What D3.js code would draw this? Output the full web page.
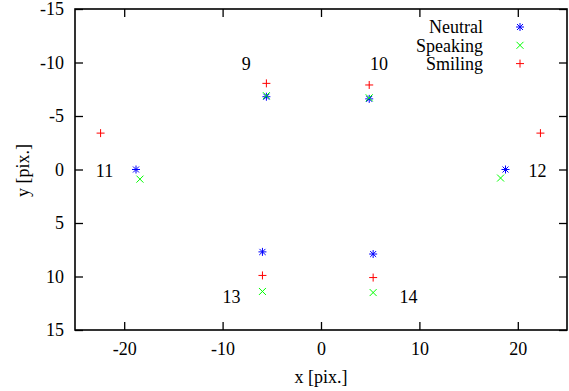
<!DOCTYPE html>
<html>
<head>
<meta charset="utf-8">
<script src="https://cdn.jsdelivr.net/npm/d3@7"></script>
<style>
  body { margin: 0; background: #fff; }
  svg { display: block; }
</style>
</head>
<body>
<svg id="chart" width="569" height="391"></svg>
<script>
// landmark ids and their label positions (data units)
const landmarkIds = ["9", "10", "11", "12", "13", "14"];
const labelX = [-7.6, 5.9, -22.0, 22.0, -9.1, 8.9];
const labelY = [-9.9, -9.9, 0.1, 0.1, 11.9, 11.9];

const neutralX = [-5.55, 4.9, -18.8, 18.75, -5.95, 5.3];
const neutralY = [-6.8, -6.6, 0.0, 0.0, 7.7, 7.9];
const speakingX = [-5.55, 4.9, -18.4, 18.25, -5.95, 5.3];
const speakingY = [-6.9, -6.7, 0.9, 0.8, 11.4, 11.5];
const smilingX = [-5.55, 4.9, -22.4, 22.3, -5.95, 5.3];
const smilingY = [-8.05, -7.9, -3.4, -3.4, 9.9, 10.1];

const xTicks = [-20, -10, 0, 10, 20];
const yTicks = [-15, -10, -5, 0, 5, 10, 15];

const series = [
    {name: "Neutral", xs: neutralX, ys: neutralY, color: "#0000ff", shape: "star"},
    {name: "Speaking", xs: speakingX, ys: speakingY, color: "#00ff00", shape: "cross"},
    {name: "Smiling", xs: smilingX, ys: smilingY, color: "#ff0000", shape: "plus"}
];

const plotLeft = 75, plotRight = 567, plotTop = 9, plotBottom = 330;
const font = "Liberation Serif, Times New Roman, serif";
const fontSize = 18;

const scaleX = d3.scaleLinear().domain([-25, 25]).range([plotLeft, plotRight]);
const scaleY = d3.scaleLinear().domain([-15, 15]).range([plotTop, plotBottom]);

const shapes = {
    plus: "M-4,0H4M0,-4V4",
    cross: "M-3.5,-3.5L3.5,3.5M-3.5,3.5L3.5,-3.5",
    star: "M-4,0H4M0,-4V4M-3,-3L3,3M-3,3L3,-3"
};

const svg = d3.select("#chart");

// axes, ticks point inward
svg.append("g")
    .attr("transform", `translate(0, ${plotBottom})`)
    .call(d3.axisBottom(scaleX).tickValues(xTicks).tickSize(-8).tickPadding(12).tickFormat(d => String(d)));

svg.append("g")
    .attr("transform", `translate(0, ${plotTop})`)
    .call(d3.axisTop(scaleX).tickValues(xTicks).tickSize(-8).tickFormat(""));

svg.append("g")
    .attr("transform", `translate(${plotLeft}, 0)`)
    .call(d3.axisLeft(scaleY).tickValues(yTicks).tickSize(-8).tickPadding(11).tickFormat(d => String(d)));

svg.append("g")
    .attr("transform", `translate(${plotRight}, 0)`)
    .call(d3.axisRight(scaleY).tickValues(yTicks).tickSize(-8).tickFormat(""));

svg.selectAll(".domain").remove();
svg.selectAll(".tick line").attr("stroke", "#000").attr("stroke-width", 1.3);

svg.append("rect")
    .attr("x", plotLeft).attr("y", plotTop)
    .attr("width", plotRight - plotLeft).attr("height", plotBottom - plotTop)
    .attr("fill", "none").attr("stroke", "#000").attr("stroke-width", 1.6);

// axis titles
svg.append("text")
    .attr("x", scaleX(0)).attr("y", 383)
    .attr("text-anchor", "middle")
    .text("x [pix.]");

svg.append("text")
    .attr("transform", `translate(29, ${scaleY(0.1)}) rotate(-90)`)
    .attr("text-anchor", "middle")
    .text("y [pix.]");

// landmark labels
svg.selectAll("text.lm")
    .data(landmarkIds)
    .join("text")
    .classed("lm", true)
    .attr("x", (d, i) => scaleX(labelX[i]))
    .attr("y", (d, i) => scaleY(labelY[i]))
    .attr("dy", "0.35em")
    .attr("text-anchor", "middle")
    .text(d => d);

// points
series.forEach(s => {
    svg.append("g")
        .selectAll("path")
        .data(s.xs.map((x, i) => [x, s.ys[i]]))
        .join("path")
        .attr("transform", d => `translate(${scaleX(d[0])}, ${scaleY(d[1])})`)
        .attr("d", shapes[s.shape])
        .attr("fill", "none")
        .attr("stroke", s.color)
        .attr("stroke-width", 1);
});

// legend
const legend = svg.append("g");
series.forEach((s, i) => {
    const y = 27 + i * 18.3;
    legend.append("text")
        .attr("x", 483).attr("y", y)
        .attr("dy", "0.35em")
        .attr("text-anchor", "end")
        .text(s.name);
    legend.append("path")
        .attr("transform", `translate(520, ${y})`)
        .attr("d", shapes[s.shape])
        .attr("fill", "none")
        .attr("stroke", s.color)
        .attr("stroke-width", 1);
});

// one font for every label, set last so the axis defaults do not win
svg.selectAll("text")
    .attr("font-family", font)
    .attr("font-size", fontSize)
    .attr("fill", "#000");
</script>
</body>
</html>
